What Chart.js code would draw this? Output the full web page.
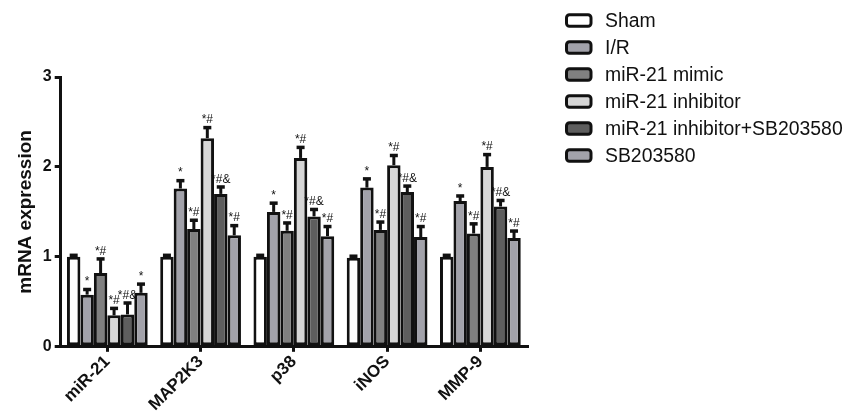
<!DOCTYPE html>
<html>
<head>
<meta charset="utf-8">
<script src="https://cdn.jsdelivr.net/npm/chart.js@4"></script>
<style>
html,body{margin:0;padding:0;background:#fff;}
#wrap{width:844px;height:417px;position:relative;}
</style>
</head>
<body>
<div id="wrap"><canvas id="c" width="844" height="417"></canvas></div>
<script>
const categories = ['miR-21', 'MAP2K3', 'p38', 'iNOS', 'MMP-9'];
const yTicks = [0, 1, 2, 3];

const sham = [1.00, 1.00, 1.00, 0.99, 1.00];
const shamErr = [0.02, 0.02, 0.02, 0.02, 0.02];
const shamSig = ['', '', '', '', ''];

const ir = [0.58, 1.76, 1.50, 1.77, 1.62];
const irErr = [0.06, 0.09, 0.10, 0.10, 0.06];
const irSig = ['*', '*', '*', '*', '*'];

const mimic = [0.82, 1.31, 1.29, 1.30, 1.26];
const mimicErr = [0.16, 0.10, 0.09, 0.09, 0.11];
const mimicSig = ['*#', '*#', '*#', '*#', '*#'];

const inhib = [0.35, 2.32, 2.10, 2.02, 2.00];
const inhibErr = [0.08, 0.12, 0.12, 0.11, 0.14];
const inhibSig = ['*#', '*#', '*#', '*#', '*#'];

const inhibSB = [0.36, 1.70, 1.45, 1.72, 1.56];
const inhibSBErr = [0.13, 0.08, 0.08, 0.07, 0.07];
const inhibSBSig = ['*#&', '*#&', '*#&', '*#&', '*#&'];

const sb = [0.60, 1.24, 1.23, 1.22, 1.21];
const sbErr = [0.10, 0.11, 0.11, 0.12, 0.08];
const sbSig = ['*', '*#', '*#', '*#', '*#'];

const seriesNames = ['Sham', 'I/R', 'miR-21 mimic', 'miR-21 inhibitor', 'miR-21 inhibitor+SB203580', 'SB203580'];
const seriesColors = ['#ffffff', '#a2a2aa', '#808080', '#d6d6d6', '#5e5e5e', '#a2a2aa'];

const FONT = '"Liberation Sans", Arial, Helvetica, sans-serif';
const values = [sham, ir, mimic, inhib, inhibSB, sb];
const errors = [shamErr, irErr, mimicErr, inhibErr, inhibSBErr, sbErr];
const sigs = [shamSig, irSig, mimicSig, inhibSig, inhibSBSig, sbSig];

const datasets = seriesNames.map((name, i) => ({
  label: name,
  data: values[i],
  err: errors[i],
  sig: sigs[i],
  backgroundColor: seriesColors[i],
  borderColor: '#111111',
  borderWidth: 3,
  borderSkipped: false,
  barPercentage: 1.0,
  categoryPercentage: 0.866
}));

const errorBarPlugin = {
  id: 'errorBars',
  afterDatasetsDraw(chart) {
    const ctx = chart.ctx;
    const yScale = chart.scales.y;
    ctx.save();
    chart.data.datasets.forEach((ds, i) => {
      const meta = chart.getDatasetMeta(i);
      meta.data.forEach((el, j) => {
        const v = ds.data[j];
        const e = ds.err[j];
        const x = el.x;
        const yTop = yScale.getPixelForValue(v);
        const yE = yScale.getPixelForValue(v + e);
        ctx.strokeStyle = '#111111';
        ctx.lineWidth = 3;
        ctx.beginPath();
        ctx.moveTo(x, yTop);
        ctx.lineTo(x, yE);
        ctx.stroke();
        ctx.fillStyle = '#111111';
        ctx.fillRect(x - 4, yE - 1.5, 8, 3.5);
        const s = ds.sig[j];
        if (s) {
          ctx.fillStyle = '#111111';
          ctx.font = '12px ' + FONT;
          ctx.textAlign = 'center';
          ctx.textBaseline = 'alphabetic';
          ctx.fillText(s, x, yE - 4);
        }
      });
    });
    ctx.restore();
  }
};

const legendPlugin = {
  id: 'customLegend',
  afterDraw(chart) {
    const ctx = chart.ctx;
    ctx.save();
    chart.data.datasets.forEach((ds, i) => {
      const cy = 20.5 + i * 27;
      const bx = 566.5, bw = 24.5, bh = 11.5;
      ctx.beginPath();
      ctx.roundRect(bx, cy - bh / 2, bw, bh, 3);
      ctx.fillStyle = ds.backgroundColor;
      ctx.fill();
      ctx.lineWidth = 3;
      ctx.strokeStyle = '#111111';
      ctx.stroke();
      ctx.fillStyle = '#111111';
      ctx.font = '19.4px ' + FONT;
      ctx.textAlign = 'left';
      ctx.textBaseline = 'middle';
      ctx.fillText(ds.label, 605, cy + 1);
    });
    ctx.restore();
  }
};

new Chart(document.getElementById('c'), {
  type: 'bar',
  data: { labels: categories, datasets: datasets },
  options: {
    responsive: false,
    animation: false,
    devicePixelRatio: 1,
    layout: { padding: { left: 10, right: 317, top: 77, bottom: 2 } },
    plugins: {
      legend: { display: false },
      tooltip: { enabled: false }
    },
    scales: {
      x: {
        offset: true,
        grid: { display: true, drawOnChartArea: false, drawTicks: true, tickLength: 5, color: '#111111', lineWidth: 3, offset: false },
        border: { display: true, color: '#111111', width: 3 },
        ticks: {
          color: '#111111',
          font: { family: FONT, size: 17, weight: 'bold' },
          minRotation: 45,
          maxRotation: 45,
          padding: 0
        }
      },
      y: {
        min: 0,
        max: 3,
        afterBuildTicks(scale) { scale.ticks = yTicks.map(v => ({ value: v })); },
        grid: { display: true, drawOnChartArea: false, drawTicks: true, tickLength: 6, color: '#111111', lineWidth: 3 },
        border: { display: true, color: '#111111', width: 3 },
        ticks: {
          color: '#111111',
          font: { family: FONT, size: 16, weight: 'bold' },
          padding: 3
        },
        title: {
          display: true,
          text: 'mRNA expression',
          color: '#111111',
          font: { family: FONT, size: 19, weight: 'bold' },
          padding: { top: 4, bottom: 3 }
        }
      }
    }
  },
  plugins: [errorBarPlugin, legendPlugin]
});
</script>
</body>
</html>
